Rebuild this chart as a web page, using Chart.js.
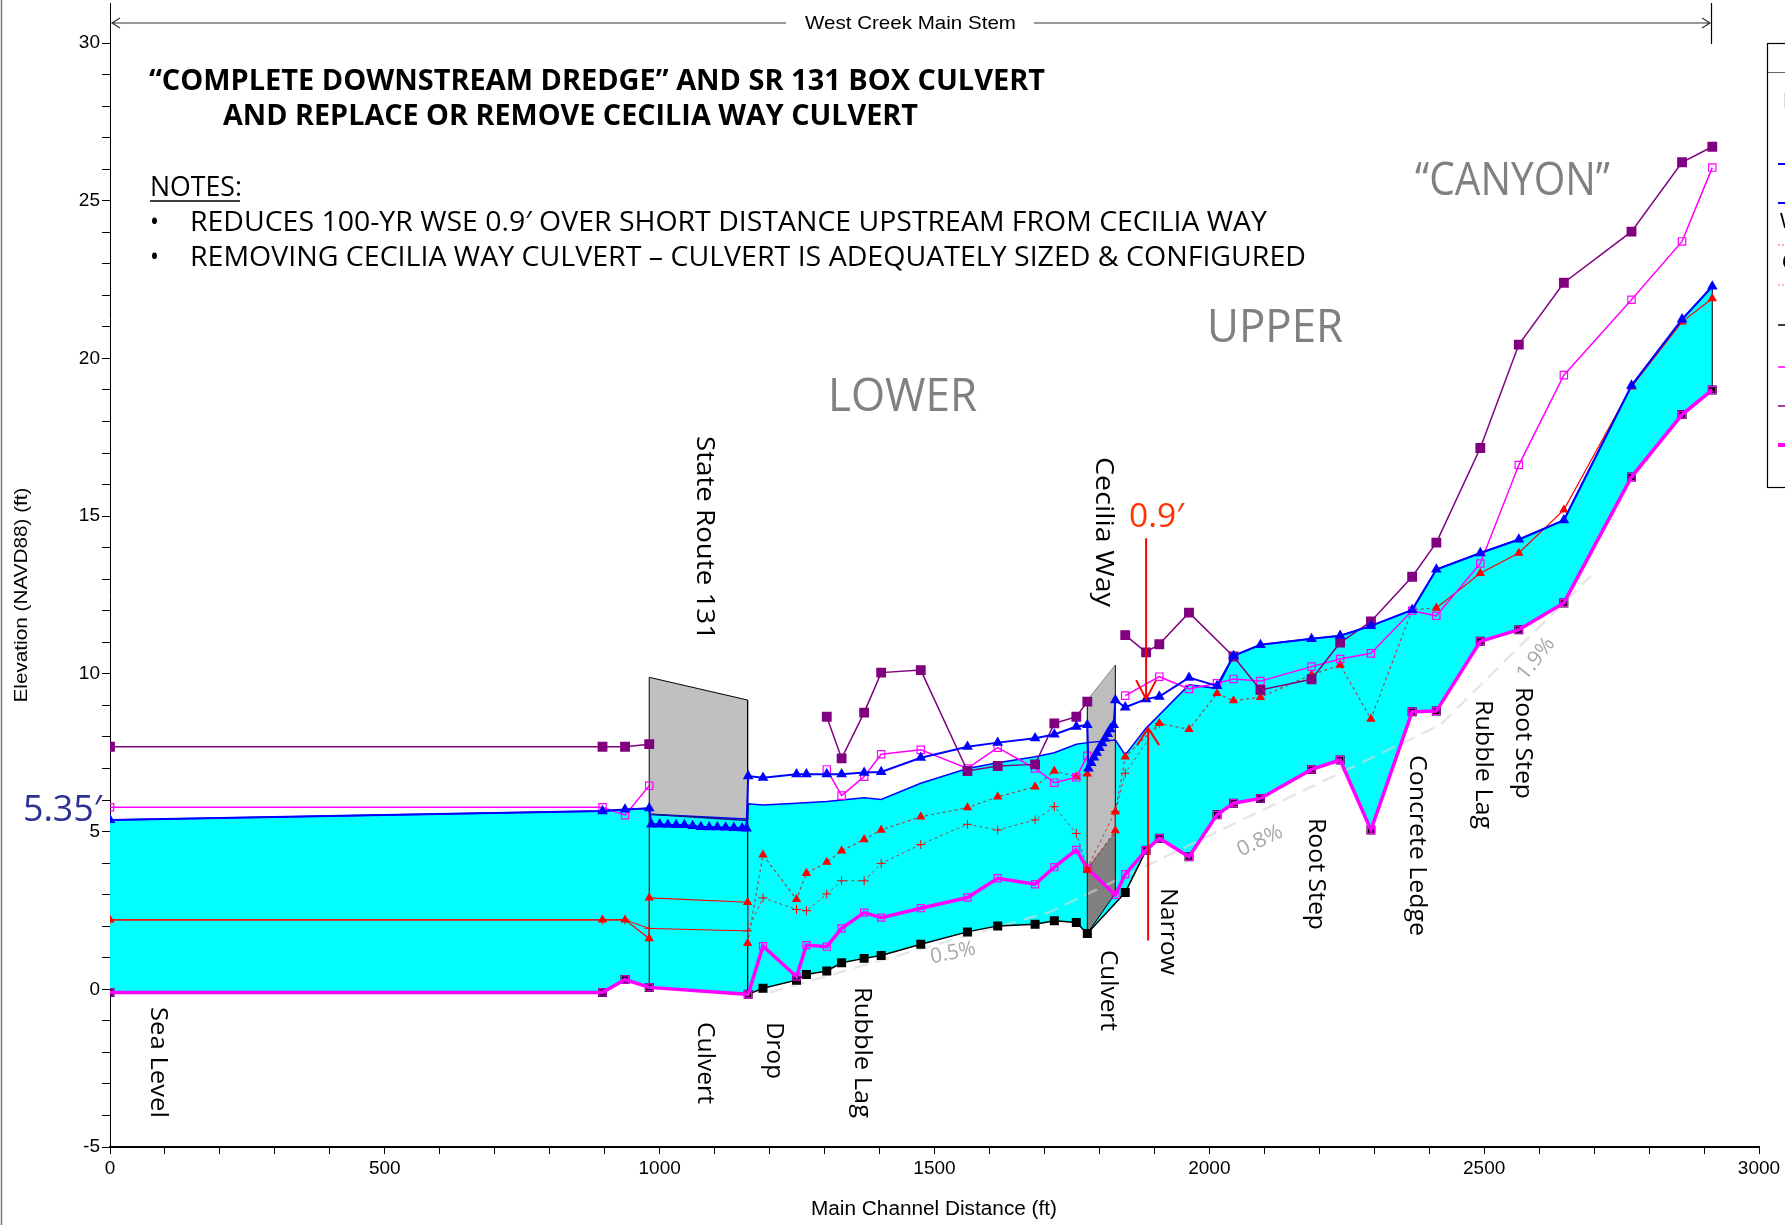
<!DOCTYPE html>
<html>
<head>
<meta charset="utf-8">
<script src="https://cdn.jsdelivr.net/npm/chart.js@4.4.1/dist/chart.umd.min.js"></script>
<style>
  html, body { margin: 0; padding: 0; background: #fff; }
  #wrap { width: 1785px; height: 1225px; }
</style>
</head>
<body>
<div id="wrap"><canvas id="profile" width="1785" height="1225"></canvas></div>
<script>
// Water surface, existing (blue, triangles) - includes culvert interior points
const wsExistX = [0, 896, 937, 981, 985, 1000, 1015, 1030, 1045, 1060, 1075, 1090, 1105, 1120, 1135, 1150, 1158,
  1161, 1188, 1249, 1267, 1304, 1331, 1372, 1403, 1475, 1560, 1615, 1683, 1718, 1758, 1778,
  1780, 1785, 1790, 1795, 1800, 1805, 1810, 1815, 1820, 1826,
  1829, 1847, 1885, 1909, 1963, 2014, 2044, 2093, 2186, 2238, 2294, 2369, 2413, 2493, 2563, 2645, 2768, 2860, 2915];
const wsExistY = [5.37, 5.65, 5.70, 5.74, 5.23, 5.23, 5.22, 5.21, 5.21, 5.18, 5.15, 5.14, 5.14, 5.13, 5.12, 5.11, 5.10,
  6.76, 6.71, 6.82, 6.82, 6.82, 6.82, 6.87, 6.89, 7.34, 7.69, 7.82, 7.96, 8.08, 8.33, 8.38,
  7.00, 7.18, 7.35, 7.50, 7.65, 7.80, 7.95, 8.10, 8.25, 8.38,
  9.17, 8.94, 9.20, 9.28, 9.88, 9.62, 10.57, 10.92, 11.11, 11.21, 11.52, 12.03, 13.31, 13.83, 14.26, 14.87, 19.14, 21.24, 22.28];

// Water surface, with dredge (blue line, top of the cyan water)
const wsDredgeX = [0, 896, 937, 981, 982, 1160, 1161, 1188, 1249, 1304, 1372, 1403, 1475, 1560, 1615, 1683, 1718, 1758, 1778,
  1829, 1847, 1885, 1909, 1963, 2014, 2044, 2093, 2186, 2238, 2294, 2369, 2413, 2493, 2563, 2645, 2768, 2860, 2915];
const wsDredgeY = [5.37, 5.65, 5.70, 5.74, 5.55, 5.40, 5.88, 5.84, 5.90, 5.95, 6.07, 6.02, 6.53, 7.00, 7.18, 7.37, 7.50, 7.77, 7.82,
  7.90, 7.43, 8.28, 8.70, 9.65, 9.54, 10.57, 10.92, 11.11, 11.21, 11.52, 12.03, 13.31, 13.83, 14.26, 14.87, 19.14, 21.24, 22.28];

// Critical depth, existing (red triangles)
const critExistX = [0, 896, 937, 981, 981, 1160, 1160, 1188, 1249, 1267, 1304, 1331, 1372, 1403, 1475, 1560, 1615, 1683, 1718, 1758, 1778, 1778,
  1829, 1829, 1847, 1909, 1963, 2014, 2044, 2093, 2186, 2238, 2294, 2369, 2413, 2493, 2563, 2645, 2768, 2860, 2915];
const critExistY = [2.20, 2.20, 2.20, 1.61, 2.90, 2.76, 1.46, 4.26, 2.85, 3.68, 4.03, 4.39, 4.75, 5.05, 5.47, 5.76, 6.10, 6.42, 6.92, 6.74, 6.83, 3.78,
  5.03, 5.63, 7.37, 8.43, 8.24, 9.38, 9.15, 9.26, 9.97, 10.28, 8.57, 12.03, 12.09, 13.19, 13.83, 15.20, 19.10, 21.16, 21.90];

// Critical depth, with dredge (red +)
const critDredgeX = [0, 896, 937, 981, 1160, 1188, 1249, 1267, 1304, 1331, 1372, 1403, 1475, 1560, 1615, 1683, 1718, 1758, 1778, 1829, 1847, 1909];
const critDredgeY = [2.20, 2.20, 2.20, 1.93, 1.85, 2.90, 2.53, 2.49, 3.02, 3.44, 3.44, 3.99, 4.59, 5.23, 5.05, 5.37, 5.79, 4.94, 3.85, 5.63, 6.85, 8.43];

// Channel bottom, dredged (black squares)
const grdDredgeX = [0, 896, 937, 981, 1161, 1188, 1249, 1267, 1304, 1331, 1372, 1403, 1475, 1560, 1615, 1683, 1718, 1758, 1778,
  1847, 1885, 1909, 1963, 2014, 2044, 2093, 2186, 2238, 2294, 2369, 2413, 2493, 2563, 2645, 2768, 2860, 2915];
const grdDredgeY = [-0.10, -0.10, 0.31, 0.06, -0.16, 0.03, 0.29, 0.47, 0.58, 0.84, 0.98, 1.07, 1.43, 1.82, 2.01, 2.06, 2.17, 2.12, 1.77,
  3.07, 4.41, 4.79, 4.20, 5.53, 5.90, 6.05, 6.97, 7.27, 5.05, 8.80, 8.82, 11.03, 11.40, 12.25, 16.24, 18.22, 19.00];

// Channel bottom, existing (thick magenta)
const grdExistX = [0, 896, 937, 981, 1161, 1188, 1249, 1267, 1304, 1331, 1372, 1403, 1475, 1560, 1615, 1683, 1718, 1758, 1778, 1829,
  1847, 1885, 1909, 1963, 2014, 2044, 2093, 2186, 2238, 2294, 2369, 2413, 2493, 2563, 2645, 2768, 2860, 2915];
const grdExistY = [-0.10, -0.10, 0.31, 0.06, -0.16, 1.37, 0.40, 1.40, 1.35, 1.93, 2.43, 2.27, 2.57, 2.91, 3.52, 3.33, 3.87, 4.42, 3.83, 2.99,
  3.65, 4.41, 4.79, 4.20, 5.53, 5.90, 6.05, 6.97, 7.27, 5.05, 8.80, 8.82, 11.03, 11.40, 12.25, 16.24, 18.22, 19.00];

// Left bank (thin magenta, open squares) - null = no bank at culverts
const leftBankX = [0, 896, 937, 981, 1100, 1304, 1331, 1372, 1403, 1475, 1560, 1615, 1683, 1718, 1758, 1778, 1810,
  1847, 1909, 1963, 2014, 2044, 2093, 2186, 2238, 2294, 2369, 2413, 2493, 2563, 2645, 2768, 2860, 2915];
const leftBankY = [5.77, 5.77, 5.52, 6.45, null, 6.97, 6.14, 6.74, 7.45, 7.59, 7.00, 7.66, 7.00, 6.55, 6.72, 7.40, null,
  9.31, 9.91, 9.52, 9.70, 9.84, 9.77, 10.23, 10.47, 10.65, 12.00, 11.84, 13.50, 16.62, 19.47, 21.86, 23.71, 26.05];

// Right bank (purple squares)
const rightBankX = [0, 896, 937, 981, 1100, 1304, 1331, 1372, 1403, 1475, 1560, 1615, 1683, 1718, 1758, 1778, 1810,
  1847, 1885, 1909, 1963, 2044, 2093, 2186, 2238, 2294, 2369, 2413, 2493, 2563, 2645, 2768, 2860, 2915];
const rightBankY = [7.69, 7.69, 7.69, 7.77, null, 8.64, 7.32, 8.77, 10.04, 10.12, 6.92, 7.08, 7.13, 8.43, 8.64, 9.12, null,
  11.23, 10.68, 10.94, 11.94, 10.55, 9.49, 9.83, 10.99, 11.66, 13.08, 14.16, 17.16, 20.44, 22.40, 24.02, 26.22, 26.71];

// Culverts
const sr131X = [981, 1160];
const sr131Top = [9.89, 9.17];
const sr131Soffit = [5.55, 5.35];
const sr131Base = [0.06, -0.16];
const ceciliaX = [1778, 1829];
const ceciliaTop = [9.17, 10.28];
const ceciliaMid = [3.85, 4.98];
const ceciliaInv = [1.77, 3.04];

// Slope guide (0.5% / 0.8% / 1.9%)
const slopeX = [1200, 1710, 2420, 2694];
const slopeY = [-0.10, 2.45, 8.38, 13.10];

const pts = (xs, ys) => xs.map((x, i) => ({ x: x, y: ys[i] }));

const BLUE = '#0000ff', RED = '#ff0000', MAG = '#ff00ff', PURP = '#800080';

function dashMid(ctx) {
  const a = ctx.p0.parsed.x, b = ctx.p1.parsed.x;
  return (b > 1160 && b <= 2413 && a !== b) ? [3, 3] : undefined;
}

const datasets = [
  { // 0 slope guide
    data: pts(slopeX, slopeY), borderColor: 'rgba(215,215,215,0.6)', borderWidth: 2.5,
    borderDash: [14, 8], pointRadius: 0, order: 40
  },
  { // 1 water (cyan) between dredged WS and dredged bottom
    data: pts(wsDredgeX, wsDredgeY), borderColor: BLUE, borderWidth: 1.5, pointRadius: 0,
    fill: { target: 9 }, backgroundColor: '#00ffff', order: 30
  },
  { // 2 SR 131 deck
    data: pts(sr131X, sr131Top), borderColor: '#000', borderWidth: 1, pointRadius: 0,
    fill: { target: 3 }, backgroundColor: '#c0c0c0', order: 25
  },
  { // 3 SR 131 soffit
    data: pts(sr131X, sr131Soffit), borderColor: '#1a1a80', borderWidth: 1.5, pointRadius: 0, order: 24
  },
  { // 4 Cecilia Way culvert (upper)
    data: pts(ceciliaX, ceciliaTop), borderColor: '#888', borderWidth: 1, pointRadius: 0,
    fill: { target: 5 }, backgroundColor: '#bdbdbd', order: 23
  },
  { // 5 Cecilia Way culvert (lower)
    data: pts(ceciliaX, ceciliaMid), borderColor: '#777', borderWidth: 0.5, pointRadius: 0,
    fill: { target: 6 }, backgroundColor: '#808080', order: 22
  },
  { // 6 Cecilia invert
    data: pts(ceciliaX, ceciliaInv), borderColor: '#000', borderWidth: 1, pointRadius: 0, order: 21
  },
  { // 7 culvert walls
    data: [
      { x: sr131X[0], y: sr131Base[0] }, { x: sr131X[0], y: sr131Top[0] }, { x: sr131X[1], y: null },
      { x: sr131X[1], y: sr131Top[1] }, { x: sr131X[1], y: sr131Base[1] }, { x: 1500, y: null },
      { x: ceciliaX[0], y: ceciliaInv[0] }, { x: ceciliaX[0], y: ceciliaTop[0] }, { x: 1800, y: null },
      { x: ceciliaX[1], y: ceciliaInv[1] }, { x: ceciliaX[1], y: ceciliaTop[1] }, { x: 2500, y: null },
      { x: 2915, y: grdExistY[grdExistY.length - 1] }, { x: 2915, y: wsExistY[wsExistY.length - 1] }
    ],
    borderColor: '#000', borderWidth: 1, pointRadius: 0, order: 20
  },
  { // 8 placeholder kept for index stability (hidden)
    data: [], borderWidth: 0, pointRadius: 0, order: 19
  },
  { // 9 dredged bottom (black)
    data: pts(grdDredgeX, grdDredgeY), borderColor: '#000', borderWidth: 1.5,
    pointStyle: 'rect', pointRadius: 5.3, pointBackgroundColor: '#000', pointBorderColor: '#000', order: 12
  },
  { // 10 existing bottom (thick magenta)
    data: pts(grdExistX, grdExistY), borderColor: MAG, borderWidth: 3.5,
    pointStyle: 'rect', pointRadius: 5, pointBackgroundColor: 'rgba(0,0,0,0)', pointBorderColor: MAG,
    pointBorderWidth: 1.2, order: 11
  },
  { // 11 crit, dredged (+)
    data: pts(critDredgeX, critDredgeY), borderColor: RED, borderWidth: 1,
    segment: { borderDash: dashMid, borderColor: c => dashMid(c) ? 'rgba(190,40,40,0.85)' : undefined },
    pointStyle: 'cross', pointRadius: 4.5, pointBorderColor: RED, pointBorderWidth: 1, order: 10
  },
  { // 12 crit, existing (triangles)
    data: pts(critExistX, critExistY), borderColor: RED, borderWidth: 1.2,
    segment: { borderDash: dashMid, borderColor: c => dashMid(c) ? 'rgba(190,40,40,0.85)' : undefined },
    pointStyle: 'triangle', pointRadius: 4.2, pointBackgroundColor: RED, pointBorderColor: RED, order: 9
  },
  { // 13 left bank
    data: pts(leftBankX, leftBankY), borderColor: MAG, borderWidth: 1.5,
    pointStyle: 'rect', pointRadius: 5.2, pointBackgroundColor: 'rgba(0,0,0,0)', pointBorderColor: MAG,
    pointBorderWidth: 1.2, order: 8
  },
  { // 14 right bank
    data: pts(rightBankX, rightBankY), borderColor: PURP, borderWidth: 1.5,
    pointStyle: 'rect', pointRadius: 5.9, pointBackgroundColor: PURP, pointBorderColor: PURP, order: 7
  },
  { // 15 existing WS
    data: pts(wsExistX, wsExistY), borderColor: BLUE, borderWidth: 2,
    pointStyle: 'triangle', pointRadius: 4.2, pointBackgroundColor: BLUE, pointBorderColor: BLUE, order: 6
  }
];

function fitText(ctx, text, x, y, width, font, color, angle, centered) {
  ctx.save();
  ctx.font = font;
  ctx.fillStyle = color;
  ctx.textAlign = 'left';
  ctx.textBaseline = 'middle';
  ctx.translate(x, y);
  if (angle) ctx.rotate(angle);
  const w = ctx.measureText(text).width;
  ctx.scale(width / w, 1);
  ctx.fillText(text, centered ? -w / 2 : 0, 0);
  ctx.restore();
}

const SEGOE = '"Open Sans", "Noto Sans", sans-serif';
const ARIAL = '"Liberation Sans", Arial, sans-serif';
const R90 = Math.PI / 2;

// rotated site labels: text, centre x, top y, bottom y
const sideLabels = [
  ['State Route 131', 704, 436, 640, 25],
  ['Cecilia Way', 1103, 457, 607, 25],
  ['Sea Level', 158, 1007, 1118, 23],
  ['Culvert', 705, 1022, 1104, 23],
  ['Drop', 774, 1022, 1079, 23],
  ['Rubble Lag', 862, 987, 1118, 23],
  ['Culvert', 1108, 950, 1031, 23],
  ['Narrow', 1168, 888, 975, 23],
  ['Root Step', 1316, 818, 930, 23],
  ['Concrete Ledge', 1417, 755, 936, 23],
  ['Rubble Lag', 1483, 700, 829, 23],
  ['Root Step', 1523, 687, 799, 23]
];

const annotate = {
  id: 'annotate',
  afterDraw(chart) {
    const ctx = chart.ctx;
    const sx = chart.scales.x, sy = chart.scales.y;
    const area = chart.chartArea;

    // page frame line at far left
    ctx.save();
    ctx.strokeStyle = '#777';
    ctx.lineWidth = 1.5;
    ctx.beginPath(); ctx.moveTo(1.5, 0); ctx.lineTo(1.5, 1225); ctx.stroke();

    // y axis extends up to the reach arrow
    ctx.strokeStyle = '#000';
    ctx.lineWidth = 1;
    ctx.beginPath(); ctx.moveTo(area.left + 0.5, 3); ctx.lineTo(area.left + 0.5, area.top); ctx.stroke();

    // reach arrow "West Creek Main Stem"
    ctx.strokeStyle = '#333';
    ctx.lineWidth = 1.2;
    ctx.beginPath();
    ctx.moveTo(area.left + 2, 23); ctx.lineTo(786, 23);
    ctx.moveTo(1034, 23); ctx.lineTo(1710, 23);
    ctx.moveTo(area.left + 10, 18); ctx.lineTo(area.left + 2, 23); ctx.lineTo(area.left + 10, 28);
    ctx.moveTo(1702, 18); ctx.lineTo(1710, 23); ctx.lineTo(1702, 28);
    ctx.stroke();
    ctx.strokeStyle = '#000';
    ctx.beginPath(); ctx.moveTo(1711.5, 3); ctx.lineTo(1711.5, 44); ctx.stroke();
    ctx.restore();
    fitText(ctx, 'West Creek Main Stem', 805, 24, 211, '19px ' + ARIAL, '#000');

    // axis titles
    fitText(ctx, 'Main Channel Distance (ft)', 934, 1209, 246, '20px ' + ARIAL, '#000', 0, true);
    fitText(ctx, 'Elevation (NAVD88) (ft)', 22, 595, 215, '19px ' + ARIAL, '#000', -R90, true);

    // title block
    fitText(ctx, '\u201CCOMPLETE DOWNSTREAM DREDGE\u201D AND SR 131 BOX CULVERT', 149, 82, 896, 'bold 28px ' + SEGOE, '#000');
    fitText(ctx, 'AND REPLACE OR REMOVE CECILIA WAY CULVERT', 223, 117, 695, 'bold 28px ' + SEGOE, '#000');
    fitText(ctx, 'NOTES:', 150, 188, 92, '27px ' + SEGOE, '#000');
    ctx.save();
    ctx.strokeStyle = '#000'; ctx.lineWidth = 1.6;
    ctx.beginPath(); ctx.moveTo(150, 201); ctx.lineTo(240, 201); ctx.stroke();
    ctx.restore();
    fitText(ctx, '\u2022', 150, 223, 9, '27px ' + SEGOE, '#000');
    fitText(ctx, '\u2022', 150, 258, 9, '27px ' + SEGOE, '#000');
    fitText(ctx, 'REDUCES 100-YR WSE 0.9\u2032 OVER SHORT DISTANCE UPSTREAM FROM CECILIA WAY', 190, 223, 1077, '27px ' + SEGOE, '#000');
    fitText(ctx, 'REMOVING CECILIA WAY CULVERT \u2013 CULVERT IS ADEQUATELY SIZED & CONFIGURED', 190, 258, 1116, '27px ' + SEGOE, '#000');

    // reach names
    fitText(ctx, 'LOWER', 828, 398, 149, '46px ' + SEGOE, '#808080');
    fitText(ctx, 'UPPER', 1207, 329, 136, '46px ' + SEGOE, '#808080');
    fitText(ctx, '\u201CCANYON\u201D', 1415, 182, 195, '46px ' + SEGOE, '#808080');

    // callouts
    fitText(ctx, '5.35\u2032', 23, 811, 79, '36px ' + SEGOE, '#2e3192');
    fitText(ctx, '0.9\u2032', 1129, 518, 55, '33px ' + SEGOE, '#ff3300');

    // slope labels
    fitText(ctx, '0.5%', 953, 953, 46, '21px ' + SEGOE, '#a8a8a8', -0.2, true);
    fitText(ctx, '0.8%', 1260, 841, 48, '21px ' + SEGOE, '#a8a8a8', -0.45, true);
    fitText(ctx, '1.9%', 1536, 659, 48, '21px ' + SEGOE, '#a8a8a8', -0.9, true);

    // rotated site labels
    sideLabels.forEach(l => {
      fitText(ctx, l[0], l[1], l[2], l[3] - l[2], l[4] + 'px ' + SEGOE, '#000', R90);
    });

    // red 0.9' arrows at the Narrow section
    const ax = sx.getPixelForValue(1885);
    const downTop = sy.getPixelForValue(14.3), downTip = sy.getPixelForValue(9.2);
    const upTip = sy.getPixelForValue(8.28), upBot = sy.getPixelForValue(1.55);
    ctx.save();
    ctx.strokeStyle = '#ff0000';
    ctx.lineWidth = 2;
    ctx.beginPath();
    ctx.moveTo(ax, downTop); ctx.lineTo(ax, downTip);
    ctx.moveTo(ax - 10, downTip - 19); ctx.lineTo(ax, downTip); ctx.lineTo(ax + 10, downTip - 19);
    ctx.moveTo(ax + 2, upBot); ctx.lineTo(ax + 2, upTip);
    ctx.moveTo(ax - 9, upTip + 17); ctx.lineTo(ax + 2, upTip); ctx.lineTo(ax + 13, upTip + 17);
    ctx.stroke();
    ctx.restore();

    // legend box (mostly off the page)
    ctx.save();
    ctx.strokeStyle = '#000'; ctx.lineWidth = 1.2;
    ctx.strokeRect(1767.5, 43.5, 40, 444);
    ctx.strokeStyle = '#666'; ctx.lineWidth = 1;
    ctx.beginPath(); ctx.moveTo(1768, 72.5); ctx.lineTo(1785, 72.5); ctx.stroke();
    const rows = [
      [164, BLUE, 2, null], [203, BLUE, 2, null], [245, '#ff5050', 1, [2, 2]], [285, '#ff7070', 1, [2, 2]],
      [325, '#000', 1.5, null], [367, MAG, 1.5, null], [406, PURP, 1.5, null], [445, MAG, 4, null]
    ];
    rows.forEach(r => {
      ctx.strokeStyle = r[1]; ctx.lineWidth = r[2];
      ctx.setLineDash(r[3] || []);
      ctx.beginPath(); ctx.moveTo(1778, r[0]); ctx.lineTo(1790, r[0]); ctx.stroke();
    });
    ctx.setLineDash([]);
    ctx.restore();
    fitText(ctx, 'Legend', 1783, 102, 60, '22px ' + ARIAL, '#bbb');
    fitText(ctx, 'WS PF 1', 1780, 222, 80, '22px ' + ARIAL, '#000');
    fitText(ctx, 'Crit PF 1', 1782, 263, 80, '22px ' + ARIAL, '#000');
  }
};

new Chart(document.getElementById('profile'), {
  type: 'line',
  data: { datasets: datasets },
  options: {
    responsive: false,
    devicePixelRatio: 1,
    animation: false,
    spanGaps: false,
    layout: { padding: { left: 0, top: 43, right: 26, bottom: 0 } },
    plugins: {
      legend: { display: false },
      tooltip: { enabled: false },
      filler: { propagate: false, drawTime: 'beforeDatasetsDraw' }
    },
    elements: { line: { tension: 0 } },
    scales: {
      x: {
        type: 'linear', min: 0, max: 3000,
        afterFit: s => { s.height = 78; s.paddingLeft = 0; s.paddingRight = 0; },
        ticks: {
          stepSize: 100, autoSkip: false, maxRotation: 0, padding: 3,
          font: { family: ARIAL, size: 19 }, color: '#000',
          callback: v => (v % 500 === 0 ? String(v) : '')
        },
        grid: { drawOnChartArea: false, tickLength: 7, tickColor: '#000' },
        border: { color: '#000', width: 2 }
      },
      y: {
        type: 'linear', min: -5, max: 30,
        afterFit: s => { s.width = 110; },
        ticks: {
          stepSize: 1, autoSkip: false, padding: 2,
          font: { family: ARIAL, size: 19 }, color: '#000',
          callback: v => (v % 5 === 0 ? String(v) : '')
        },
        grid: { drawOnChartArea: false, tickLength: 8, tickColor: '#000' },
        border: { color: '#000', width: 1 }
      }
    }
  },
  plugins: [annotate]
});
</script>
</body>
</html>
